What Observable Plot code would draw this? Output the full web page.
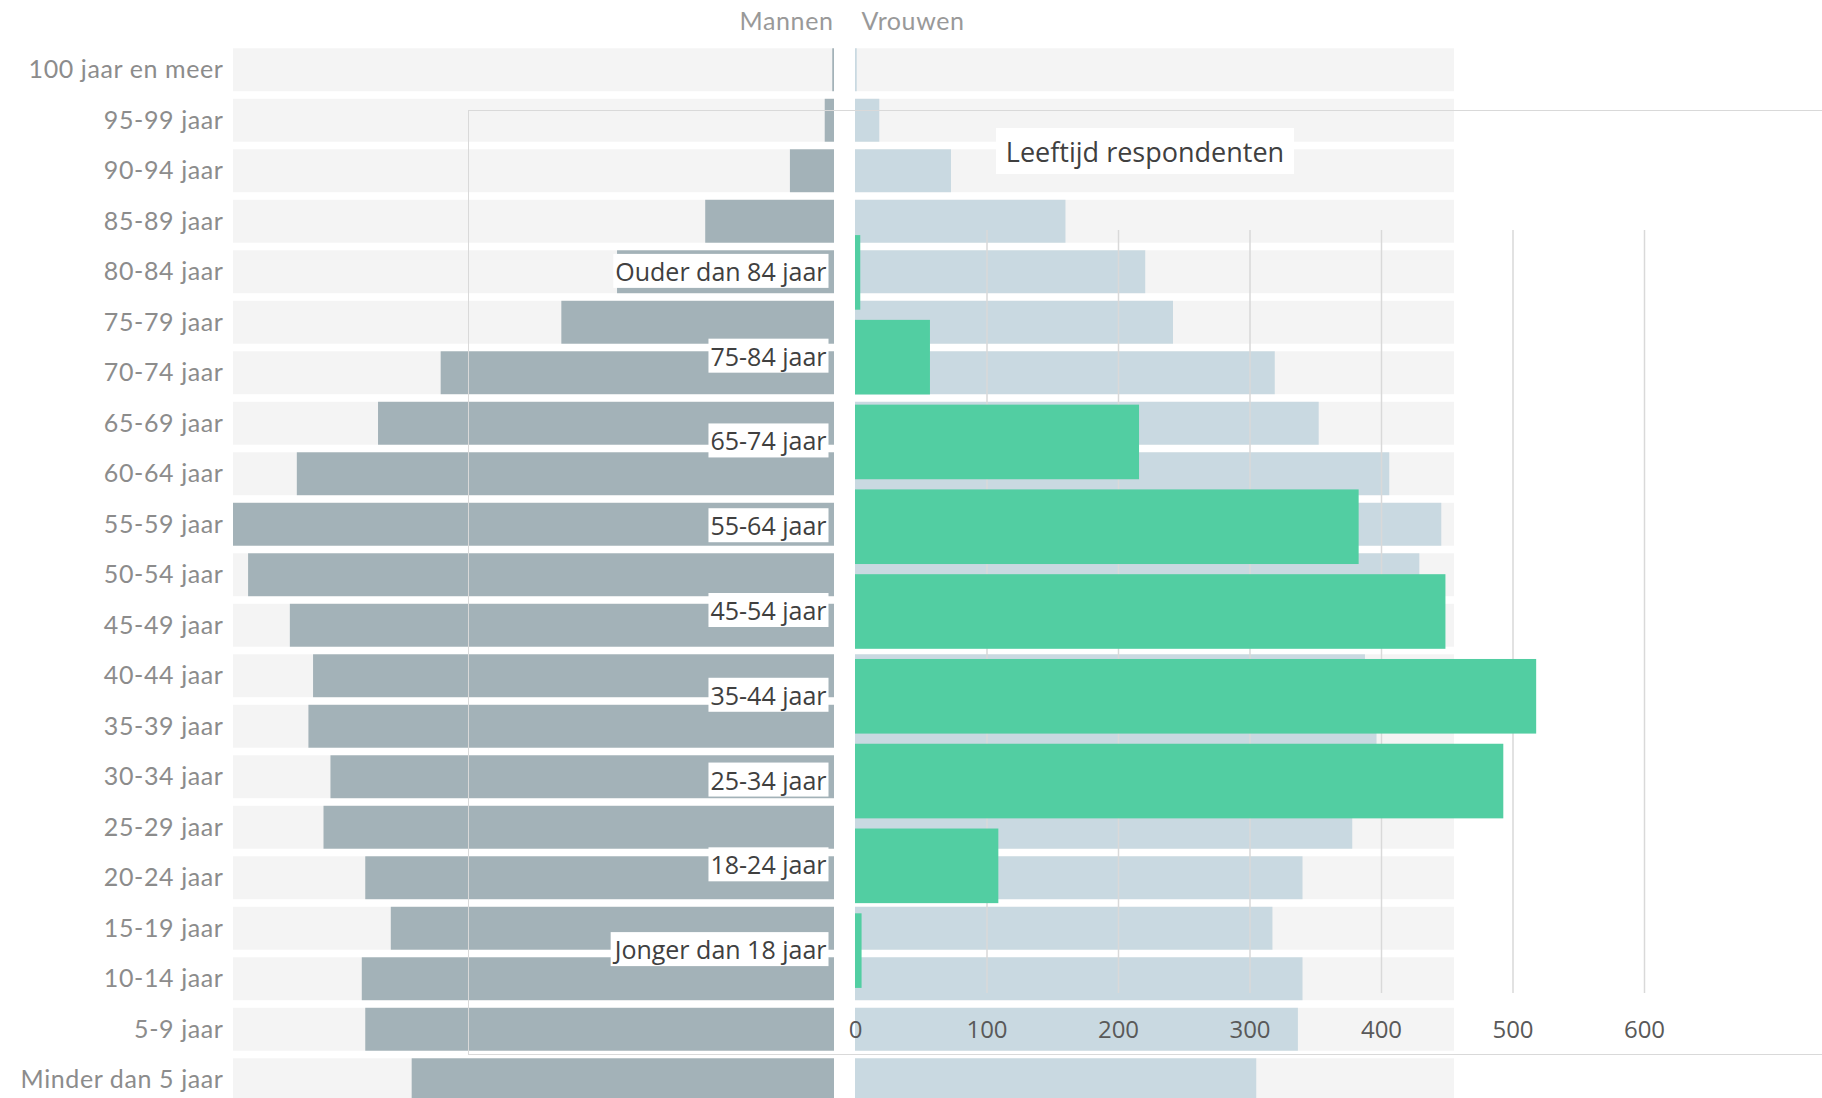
<!DOCTYPE html>
<html>
<head>
<meta charset="utf-8">
<script src="https://cdn.jsdelivr.net/npm/d3@7"></script>
<script src="https://cdn.jsdelivr.net/npm/@observablehq/plot@0.6"></script>
<style>
  html, body { margin: 0; padding: 0; background: #fff; overflow: hidden; }
  #wrap { position: relative; width: 1822px; height: 1098px; overflow: hidden; }
  #wrap > svg, #wrap > div { position: absolute; }
  #frame { left: 468px; top: 110px; width: 1400px; height: 945px; border: 1.5px solid #d9d9d9; box-sizing: border-box; pointer-events: none; }
  #title { left: 996px; top: 128px; width: 298px; height: 46px; background: #fff; font: 27px "Open Sans", sans-serif; color: #404040; display: flex; align-items: center; justify-content: center; white-space: nowrap; }
  .pyr text { letter-spacing: 0.6px; }
</style>
</head>
<body>
<div id="wrap"></div>
<script>
// Population pyramid (relative lengths)
const ageGroups = ["100 jaar en meer", "95-99 jaar", "90-94 jaar", "85-89 jaar", "80-84 jaar", "75-79 jaar",
  "70-74 jaar", "65-69 jaar", "60-64 jaar", "55-59 jaar", "50-54 jaar", "45-49 jaar", "40-44 jaar",
  "35-39 jaar", "30-34 jaar", "25-29 jaar", "20-24 jaar", "15-19 jaar", "10-14 jaar", "5-9 jaar", "Minder dan 5 jaar"];
const men   = [1.5, 8, 38, 111, 187, 235, 339, 393, 463, 518, 505, 469, 449, 453, 434, 440, 404, 382, 407, 404, 364];
const women = [1.5, 21, 83, 182, 251, 275, 363, 401, 462, 507, 488, 470, 441, 451, 432, 430, 387, 361, 387, 383, 347];
const pyramidMax = 518;

// Respondents overlay
const respCategories = ["Ouder dan 84 jaar", "75-84 jaar", "65-74 jaar", "55-64 jaar", "45-54 jaar",
  "35-44 jaar", "25-34 jaar", "18-24 jaar", "Jonger dan 18 jaar"];
const respCounts = [4, 57, 216, 383, 449, 518, 493, 109, 5];
const respTicks = [0, 100, 200, 300, 400, 500, 600];

const title = "Leeftijd respondenten";
const menLabel = "Mannen", womenLabel = "Vrouwen";

const wrap = document.getElementById("wrap");
const pyrRows = ageGroups.map((a, i) => ({age: a, men: men[i], women: women[i]}));

const yPyr = {domain: ageGroups, paddingInner: 0.15, paddingOuter: 0.075, round: false, label: null};
const pyrHeight = 1105, pyrTop = 44.5;

const menPlot = Plot.plot({
  className: "pyr",
  width: 834, height: pyrHeight,
  marginLeft: 233, marginRight: 0, marginTop: pyrTop, marginBottom: 0,
  style: {background: "transparent", fontFamily: "Lato, sans-serif", overflow: "visible"},
  x: {domain: [0, pyramidMax], reverse: true, axis: null},
  y: yPyr,
  marks: [
    Plot.barX(ageGroups, {x1: 0, x2: pyramidMax, y: d => d, fill: "#f4f4f4"}),
    Plot.barX(pyrRows, {x1: 0, x2: "men", y: "age", fill: "#a3b2b8"}),
    Plot.axisY({tickSize: 0, tickPadding: 10, fontSize: 25, color: "#8c8c8c", label: null}),
    Plot.text([menLabel], {frameAnchor: "top-right", textAnchor: "end", lineAnchor: "middle", dy: -23, dx: -1, fontSize: 25, fill: "#999"})
  ]
});
menPlot.style.left = "0px"; menPlot.style.top = "0px";
wrap.append(menPlot);

const womenPlot = Plot.plot({
  className: "pyr",
  width: 1454 - 855, height: pyrHeight,
  marginLeft: 0, marginRight: 0, marginTop: pyrTop, marginBottom: 0,
  style: {background: "transparent", fontFamily: "Lato, sans-serif", overflow: "visible"},
  x: {domain: [0, pyramidMax], axis: null},
  y: {...yPyr, axis: null},
  marks: [
    Plot.barX(ageGroups, {x1: 0, x2: pyramidMax, y: d => d, fill: "#f4f4f4"}),
    Plot.barX(pyrRows, {x1: 0, x2: "women", y: "age", fill: "#c9d9e1"}),
    Plot.text([womenLabel], {frameAnchor: "top-left", textAnchor: "start", lineAnchor: "middle", dy: -23, dx: 6, fontSize: 25, fill: "#999"})
  ]
});
womenPlot.style.left = "855px"; womenPlot.style.top = "0px";
wrap.append(womenPlot);

// Overlay chart
const frame = document.createElement("div"); frame.id = "frame"; wrap.append(frame);

const respRows = respCategories.map((c, i) => ({cat: c, n: respCounts[i]}));
const overlay = Plot.plot({
  width: 1822, height: 1098,
  marginLeft: 855, marginRight: 178, marginTop: 230, marginBottom: 105,
  style: {background: "transparent", fontFamily: "'Open Sans', sans-serif", overflow: "visible"},
  x: {domain: [0, 600], ticks: respTicks, label: null},
  y: {domain: respCategories, paddingInner: 0.12, paddingOuter: 0.06, round: false, label: null},
  marks: [
    Plot.gridX(respTicks.filter(t => t > 0), {stroke: "#d9d9d9", strokeOpacity: 1, strokeWidth: 1.5}),
    Plot.barX(respRows, {x1: 0, x2: "n", y: "cat", fill: "#52cea2"}),
    Plot.axisX({ticks: respTicks, tickSize: 0, tickPadding: 27, fontSize: 24, color: "#595959", label: null, tickFormat: d => String(d)}),
    Plot.axisY({tickSize: 0, tickPadding: 29, fontSize: 25, color: "#404040", label: null})
  ]
});
overlay.style.left = "0px"; overlay.style.top = "0px";
wrap.append(overlay);

// white boxes behind the respondent category labels
overlay.querySelectorAll('g[aria-label="y-axis tick label"] text').forEach(t => {
  const b = t.getBBox();
  const r = document.createElementNS("http://www.w3.org/2000/svg", "rect");
  r.setAttribute("x", b.x - 2); r.setAttribute("y", b.y);
  r.setAttribute("width", b.width + 4); r.setAttribute("height", b.height);
  r.setAttribute("fill", "#fff");
  if (t.getAttribute("transform")) r.setAttribute("transform", t.getAttribute("transform"));
  t.parentNode.insertBefore(r, t);
});

const tdiv = document.createElement("div"); tdiv.id = "title"; tdiv.textContent = title; wrap.append(tdiv);
</script>
</body>
</html>
